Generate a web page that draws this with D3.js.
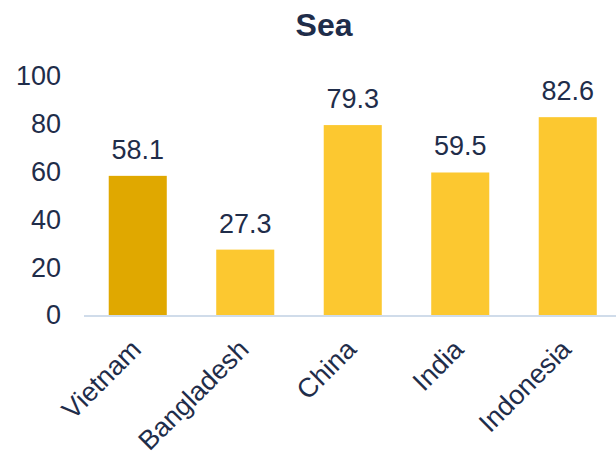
<!DOCTYPE html>
<html><head><meta charset="utf-8">
<script src="https://cdn.jsdelivr.net/npm/d3@7"></script>
<style>body{margin:0;background:#fff}svg{display:block}</style>
</head><body>
<svg id="c" width="616" height="452"></svg>
<script>
const categories = ["Vietnam","Bangladesh","China","India","Indonesia"];
const values = [58.1,27.3,79.3,59.5,82.6];
const yTicks = [0,20,40,60,80,100];
const title = "Sea";

const svg = d3.select("#c");
const font = "'Liberation Sans', Arial, sans-serif";
const navy = "#1F2D4A";
const x = d3.scaleBand().domain(categories).range([84,621.5]).paddingInner(0.46).paddingOuter(0.23);
const y = d3.scaleLinear().domain([0,100]).range([315,75.5]);

svg.append("text").attr("x",324).attr("y",36).attr("text-anchor","middle")
  .attr("font-family",font).attr("font-weight","bold").attr("font-size",32).attr("fill",navy).text(title);

svg.selectAll("text.yt").data(yTicks).enter().append("text").attr("class","yt")
  .attr("x",61).attr("y",d=>y(d)).attr("dy","0.35em").attr("text-anchor","end")
  .attr("font-family",font).attr("font-size",27).attr("fill",navy).text(d=>d);

svg.selectAll("rect.bar").data(values).enter().append("rect").attr("class","bar")
  .attr("x",(d,i)=>x(categories[i])).attr("width",x.bandwidth())
  .attr("y",d=>y(d)).attr("height",d=>y(0)-y(d))
  .attr("fill",(d,i)=>i===0?"#E0A800":"#FCC830");

svg.append("line").attr("x1",84).attr("x2",616).attr("y1",y(0)+1).attr("y2",y(0)+1)
  .attr("stroke","#D0DCEA").attr("stroke-width",2);

svg.selectAll("text.val").data(values).enter().append("text").attr("class","val")
  .attr("x",(d,i)=>x(categories[i])+x.bandwidth()/2).attr("y",d=>y(d)-17)
  .attr("text-anchor","middle").attr("font-family",font).attr("font-size",27).attr("fill",navy)
  .text(d=>d.toFixed(1));

svg.selectAll("text.cat").data(categories).enter().append("text").attr("class","cat")
  .attr("transform",d=>`translate(${x(d)+x.bandwidth()/2+5},${351}) rotate(-45)`)
  .attr("text-anchor","end").attr("font-family",font).attr("font-size",27).attr("fill",navy)
  .text(d=>d);
</script>
</body></html>
